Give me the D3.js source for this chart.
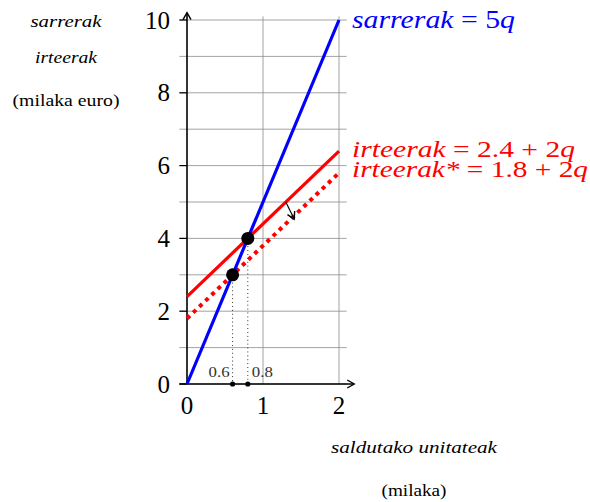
<!DOCTYPE html>
<html><head><meta charset="utf-8">
<script src="https://cdn.jsdelivr.net/npm/d3@7"></script>
<style>body{margin:0;background:#fff}</style>
</head><body>
<svg id="c" width="590" height="502"></svg>
<script>
// data
const xTicks = [0, 1, 2];
const yTicks = [0, 2, 4, 6, 8, 10];
const yGrid = [0,1,2,3,4,5,6,7,8,9,10];
const xGrid = [1, 2];
const lineSarrerak = [[0,0],[2,10]];
const lineIrteerak = [[0,2.4],[2,6.4]];
const lineIrteerakStar = [[0,1.8],[2,5.8]];
const points = [[0.6,3],[0.8,4]];
const qLabels = [{q:0.6,t:"0.6"},{q:0.8,t:"0.8"}];
const shiftArrow = [[1.3,5.0],[1.41,4.53]];
const labels = ["sarrerak = 5q","irteerak = 2.4 + 2q","irteerak* = 1.8 + 2q"];

const svg = d3.select("#c");
const x = d3.scaleLinear().domain([0,2]).range([187,339]);
const y = d3.scaleLinear().domain([0,10]).range([384,20]);
const serif = "'Liberation Serif','DejaVu Serif',serif";

svg.append("defs").append("marker").attr("id","ah").attr("viewBox","0 0 10 10")
  .attr("refX",8).attr("refY",5).attr("markerWidth",10).attr("markerHeight",10)
  .attr("markerUnits","userSpaceOnUse").attr("orient","auto")
  .append("path").attr("d","M1,1 L8,5 L1,9").attr("fill","none").attr("stroke","#000").attr("stroke-width",1.4);

// grid
svg.selectAll(".gh").data(yGrid).enter().append("line")
  .attr("x1",x(-0.1)).attr("x2",x(2.1)).attr("y1",d=>y(d)).attr("y2",d=>y(d))
  .attr("stroke","#8c8c8c").attr("stroke-width",0.8);
svg.selectAll(".gv").data(xGrid).enter().append("line")
  .attr("x1",d=>x(d)).attr("x2",d=>x(d)).attr("y1",y(0)).attr("y2",y(10.1))
  .attr("stroke","#8c8c8c").attr("stroke-width",0.8);

// major y ticks
svg.selectAll(".yt").data(yTicks).enter().append("line")
  .attr("x1",x(-0.1)).attr("x2",x(0)).attr("y1",d=>y(d)).attr("y2",d=>y(d))
  .attr("stroke","#000").attr("stroke-width",1.2);
svg.selectAll(".ytl").data(yTicks).enter().append("text")
  .attr("x",x(0)-17).attr("y",d=>y(d)+8.5).attr("text-anchor","end")
  .attr("font-family",serif).attr("font-size",25).text(d=>d);
svg.selectAll(".xtl").data(xTicks).enter().append("text")
  .attr("x",d=>x(d)).attr("y",y(0)+30).attr("text-anchor","middle")
  .attr("font-family",serif).attr("font-size",25).text(d=>d);

// axes
svg.append("line").attr("x1",x(-0.1)).attr("x2",x(2.2)).attr("y1",y(0)).attr("y2",y(0))
  .attr("stroke","#000").attr("stroke-width",1.6).attr("marker-end","url(#ah)");
svg.append("line").attr("x1",x(0)).attr("x2",x(0)).attr("y1",y(0)).attr("y2",y(10.2))
  .attr("stroke","#000").attr("stroke-width",1.6).attr("marker-end","url(#ah)");

const line = d3.line().x(d=>x(d[0])).y(d=>y(d[1]));

// dotted verticals
svg.selectAll(".dv").data(points).enter().append("line")
  .attr("x1",d=>x(d[0])).attr("x2",d=>x(d[0])).attr("y1",d=>y(d[1])).attr("y2",y(0))
  .attr("stroke","#000").attr("stroke-width",0.9).attr("stroke-dasharray","0.9,3");

svg.append("path").attr("d",line(lineIrteerakStar)).attr("fill","none")
  .attr("stroke","#ff0000").attr("stroke-width",4).attr("stroke-dasharray","4,4.5");
svg.append("path").attr("d",line(lineIrteerak)).attr("fill","none")
  .attr("stroke","#ff0000").attr("stroke-width",3.2);
svg.append("path").attr("d",line(lineSarrerak)).attr("fill","none")
  .attr("stroke","#0000ff").attr("stroke-width",3.2);

svg.append("path").attr("d",line(shiftArrow)).attr("fill","none")
  .attr("stroke","#000").attr("stroke-width",1.2).attr("marker-end","url(#ah)");

svg.selectAll(".pt").data(points).enter().append("circle")
  .attr("cx",d=>x(d[0])).attr("cy",d=>y(d[1])).attr("r",6.5).attr("fill","#000");
svg.selectAll(".qd").data(points).enter().append("circle")
  .attr("cx",d=>x(d[0])).attr("cy",y(0)).attr("r",2.6).attr("fill","#000");
svg.selectAll(".ql").data(qLabels).enter().append("text")
  .attr("x",(d,i)=>i===0?x(d.q)-3:x(d.q)+4).attr("y",y(0)-7)
  .attr("text-anchor",(d,i)=>i===0?"end":"start")
  .attr("font-family",serif).attr("font-size",14).attr("fill","#333")
  .attr("textLength",21).attr("lengthAdjust","spacingAndGlyphs").text(d=>d.t);

// line labels
function eq(txt, px, py, col, w, fs){
  const t = svg.append("text").attr("x",px).attr("y",py).attr("font-family",serif)
    .attr("font-size",fs).attr("fill",col)
    .attr("textLength",w).attr("lengthAdjust","spacingAndGlyphs");
  const parts = txt.split(" = ");
  t.append("tspan").attr("font-style","italic").text(parts[0]);
  t.append("tspan").text(" = ");
  const m = parts[1].match(/^(.*?)(q)$/);
  t.append("tspan").text(m[1]);
  t.append("tspan").attr("font-style","italic").text(m[2]);
}
eq(labels[0], 352, 28, "#0000ff", 163, 25);
eq(labels[1], 352, 157, "#ff0000", 223, 23);
eq(labels[2], 352, 177, "#ff0000", 236, 23);

// axis titles
const tf = (t,px,py,it,w)=>svg.append("text").attr("x",px-w/2).attr("y",py)
  .attr("font-family",serif).attr("font-size",16).attr("font-style",it?"italic":"normal")
  .attr("textLength",w).attr("lengthAdjust","spacingAndGlyphs").text(t);
tf("sarrerak",66,27,true,71);
tf("irteerak",66,63,true,62);
tf("(milaka euro)",66,106,false,107);
tf("saldutako unitateak",414,453,true,166);
tf("(milaka)",414,496,false,65);
</script>
</body></html>
